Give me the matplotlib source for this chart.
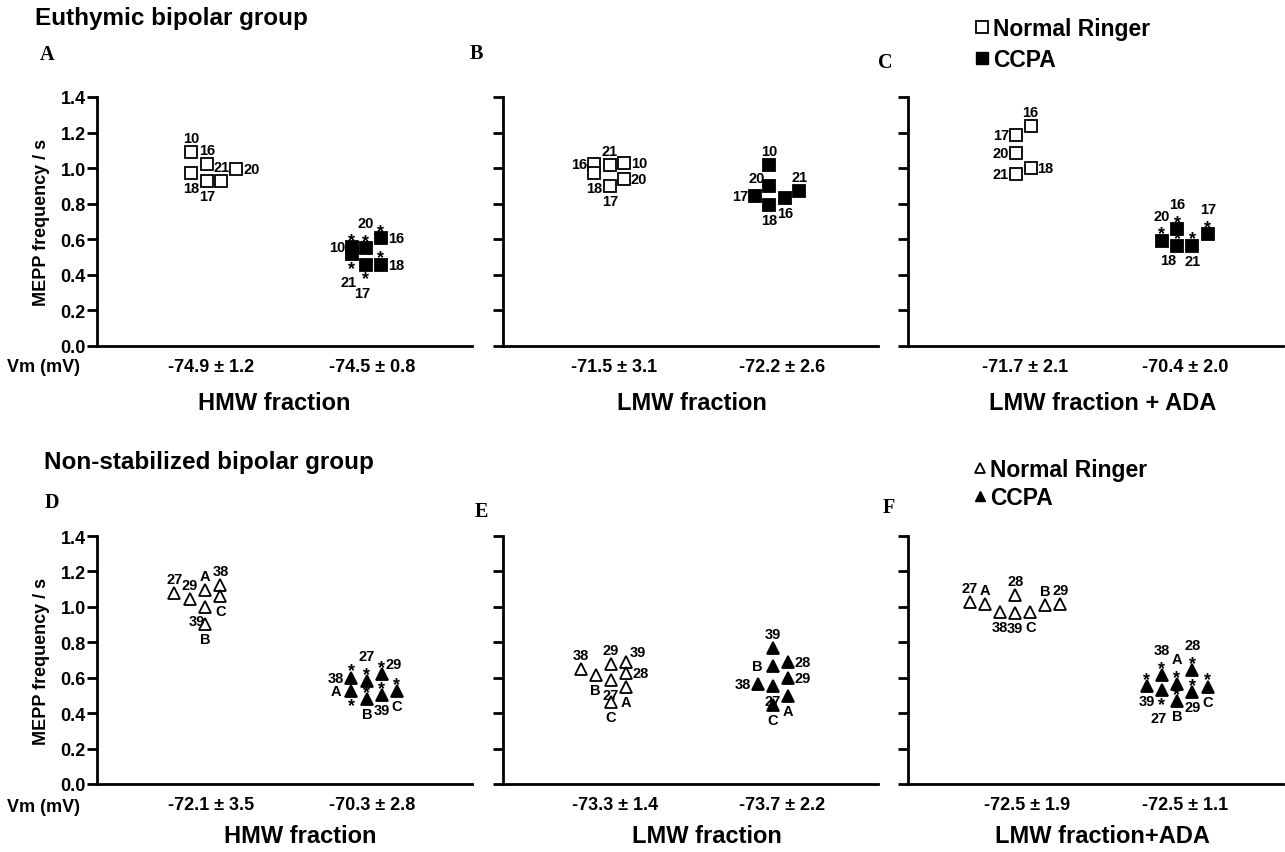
import matplotlib.pyplot as plt
from matplotlib.lines import Line2D

plt.rcParams['font.family'] = ['Liberation Sans', 'DejaVu Sans']
plt.rcParams['font.weight'] = 'bold'

# ---------------- data ----------------
# y values = MEPP frequency / s, ids = subject codes
a_nr_ids = ['10', '16', '18', '17', '21', '20']
a_nr_vals = [1.09, 1.025, 0.972, 0.925, 0.925, 0.997]
a_cc_ids = ['10', '21', '20', '16', '17', '18']
a_cc_vals = [0.556, 0.518, 0.55, 0.606, 0.458, 0.458]

b_nr_ids = ['16', '18', '21', '10', '20', '17']
b_nr_vals = [1.021, 0.974, 1.015, 1.03, 0.94, 0.897]
b_cc_ids = ['10', '20', '17', '18', '16', '21']
b_cc_vals = [1.015, 0.897, 0.841, 0.79, 0.831, 0.869]

c_nr_ids = ['16', '17', '20', '21', '18']
c_nr_vals = [1.237, 1.188, 1.085, 0.965, 1.002]
c_cc_ids = ['20', '16', '18', '21', '17']
c_cc_vals = [0.593, 0.659, 0.565, 0.565, 0.631]

d_nr_ids = ['27', '29', 'A', '38', 'C', '39', 'B']
d_nr_vals = [1.08, 1.042, 1.093, 1.123, 1.061, 1.001, 0.901]
d_cc_ids = ['38', 'A', '27', 'B', '29', '39', 'C']
d_cc_vals = [0.601, 0.526, 0.579, 0.479, 0.62, 0.501, 0.526]

e_nr_ids = ['38', 'B', '29', '27', 'C', '39', '28', 'A']
e_nr_vals = [0.648, 0.614, 0.676, 0.586, 0.464, 0.689, 0.625, 0.545]
e_cc_ids = ['39', 'B', '28', '29', '38', '27', 'A', 'C']
e_cc_vals = [0.765, 0.667, 0.686, 0.601, 0.563, 0.554, 0.497, 0.445]

f_nr_ids = ['27', 'A', '38', '28', '39', 'C', 'B', '29']
f_nr_vals = [1.027, 1.018, 0.971, 1.065, 0.963, 0.971, 1.008, 1.018]
f_cc_ids = ['39', '38', '27', 'A', 'B', '28', '29', 'C']
f_cc_vals = [0.554, 0.614, 0.531, 0.563, 0.469, 0.644, 0.52, 0.55]

vm_a = ['-74.9 ± 1.2', '-74.5 ± 0.8']
vm_b = ['-71.5 ± 3.1', '-72.2 ± 2.6']
vm_c = ['-71.7 ± 2.1', '-70.4 ± 2.0']
vm_d = ['-72.1 ± 3.5', '-70.3 ± 2.8']
vm_e = ['-73.3 ± 1.4', '-73.7 ± 2.2']
vm_f = ['-72.5 ± 1.9', '-72.5 ± 1.1']

xlabels = ['HMW fraction', 'LMW fraction', 'LMW fraction + ADA',
           'HMW fraction', 'LMW fraction', 'LMW fraction+ADA']

# ---------------- layout (scatter jitter, label placement) ----------------
a_nr_jit = [-0.53, -0.11, -0.53, -0.11, 0.27, 0.67]
a_nr_lab = ['n', 'n', 's', 's', 'n', 'e']
a_cc_jit = [-0.54, -0.54, -0.17, 0.24, -0.17, 0.24]
a_cc_lab = ['w', 's2', 'n2', 'e', 's2', 'e']
a_cc_star = ['n', 's', 'n', 'n', 's', 'n']

b_nr_jit = [-0.53, -0.53, -0.11, 0.27, 0.27, -0.11]
b_nr_lab = ['w', 's', 'n', 'e', 'e', 's']
b_cc_jit = [-0.34, -0.34, -0.72, -0.34, 0.08, 0.46]
b_cc_lab = ['n', 'nw', 'w', 's', 's', 'n']

c_nr_jit = [0.15, -0.24, -0.24, -0.24, 0.15]
c_nr_lab = ['n', 'w', 'w', 'w', 'e']
c_cc_jit = [-0.62, -0.21, -0.21, 0.19, 0.61]
c_cc_lab = ['n2', 'n2', 'sw', 's', 'n2']
c_cc_star = ['n', 'n', 'n', 'n', 'n']

d_nr_jit = [-0.99, -0.58, -0.16, 0.24, 0.24, -0.16, -0.16]
d_nr_lab = ['n', 'n', 'n', 'n', 's', 'sw', 's']
d_cc_jit = [-0.56, -0.56, -0.14, -0.14, 0.26, 0.26, 0.66]
d_cc_lab = ['w', 'w', 'n2', 's', 'ne', 's', 's']
d_cc_star = ['n', 's', 'n', 'n', 'n', 'n', 'n']

e_nr_jit = [-0.91, -0.51, -0.11, -0.11, -0.11, 0.30, 0.30, 0.30]
e_nr_lab = ['n', 's', 'n', 's', 's', 'ne', 'e', 's']
e_cc_jit = [-0.24, -0.24, 0.16, 0.16, -0.64, -0.24, 0.16, -0.24]
e_cc_lab = ['n', 'w', 'e', 'e', 'w', 's', 's', 's']

f_nr_jit = [-1.53, -1.13, -0.73, -0.31, -0.31, 0.09, 0.49, 0.89]
f_nr_lab = ['n', 'n', 's', 'n', 's', 's', 'n', 'n']
f_cc_jit = [-1.02, -0.62, -0.62, -0.22, -0.22, 0.19, 0.19, 0.61]
f_cc_lab = ['s', 'n2', 's2', 'n2', 's', 'n2', 's', 's']
f_cc_star = ['n', 'n', 's', 'n', 'n', 'n', 'n', 'n']

W, H = 1285, 853
PT = 0.72  # points per pixel at 100 dpi
OFFS = {'n': (0, 14), 's': (0, -15), 'n2': (0, 25), 's2': (-3, -28),
        'w': (-15, 0), 'e': (15, 0), 'ne': (12, 10), 'nw': (-13, 8),
        'sw': (-9, -14)}

panels = [
    dict(letter='A', box=(97.5, 98, 472, 347), gx=[3.04, 7.33], vm=vm_a,
         nr=(a_nr_ids, a_nr_vals, a_nr_jit, a_nr_lab, None),
         cc=(a_cc_ids, a_cc_vals, a_cc_jit, a_cc_lab, a_cc_star), mk='s',
         lpos=(40, 55), xl=(274, 404)),
    dict(letter='B', box=(503, 98, 878, 347), gx=[2.96, 7.44], vm=vm_b,
         nr=(b_nr_ids, b_nr_vals, b_nr_jit, b_nr_lab, None),
         cc=(b_cc_ids, b_cc_vals, b_cc_jit, b_cc_lab, None), mk='s',
         lpos=(470, 54), xl=(692, 404)),
    dict(letter='C', box=(908, 98, 1283, 347), gx=[3.12, 7.39], vm=vm_c,
         nr=(c_nr_ids, c_nr_vals, c_nr_jit, c_nr_lab, None),
         cc=(c_cc_ids, c_cc_vals, c_cc_jit, c_cc_lab, c_cc_star), mk='s',
         lpos=(878, 63), xl=(1103, 404)),
    dict(letter='D', box=(97.5, 537, 472, 785), gx=[3.04, 7.33], vm=vm_d,
         nr=(d_nr_ids, d_nr_vals, d_nr_jit, d_nr_lab, None),
         cc=(d_cc_ids, d_cc_vals, d_cc_jit, d_cc_lab, d_cc_star), mk='^',
         lpos=(45, 503), xl=(300, 837)),
    dict(letter='E', box=(503, 537, 878, 785), gx=[2.98, 7.43], vm=vm_e,
         nr=(e_nr_ids, e_nr_vals, e_nr_jit, e_nr_lab, None),
         cc=(e_cc_ids, e_cc_vals, e_cc_jit, e_cc_lab, None), mk='^',
         lpos=(475, 512), xl=(707, 837)),
    dict(letter='F', box=(908, 537, 1283, 785), gx=[3.17, 7.39], vm=vm_f,
         nr=(f_nr_ids, f_nr_vals, f_nr_jit, f_nr_lab, None),
         cc=(f_cc_ids, f_cc_vals, f_cc_jit, f_cc_lab, f_cc_star), mk='^',
         lpos=(883, 508), xl=(1102, 837)),
]


def draw_group(ax, x0, grp, marker, filled):
    ids, vals, jit, lab, star = grp
    xs = [x0 + j for j in jit]
    ms = 8 if marker == 's' else 8.5
    ax.plot(xs, vals, ls='none', marker=marker, ms=ms,
            mfc='black' if filled else 'white', mec='black', mew=1.3,
            clip_on=False, zorder=3)
    for x, y, t, p in zip(xs, vals, ids, lab):
        dx, dy = OFFS[p]
        ax.annotate(t, (x, y), xytext=(dx * PT, dy * PT), textcoords='offset points',
                    ha='center', va='center', fontsize=10.5, fontweight='bold', zorder=4)
    if star:
        for x, y, s in zip(xs, vals, star):
            dy = 12 if s == 'n' else -9
            ax.annotate('*', (x, y), xytext=(0, (dy - 10) * PT), textcoords='offset points',
                        ha='center', va='baseline', fontsize=13, fontweight='bold', zorder=4)


fig = plt.figure(figsize=(W / 100, H / 100), dpi=100)

for i, p in enumerate(panels):
    l, t, r, b = p['box']
    ax = fig.add_axes([l / W, 1 - b / H, (r - l) / W, (b - t) / H])
    ax.set_xlim(0, 10)
    ax.set_ylim(0, 1.4)
    for s in ['top', 'right']:
        ax.spines[s].set_visible(False)
    for s in ['left', 'bottom']:
        ax.spines[s].set_linewidth(2)
    ax.set_yticks([0, 0.2, 0.4, 0.6, 0.8, 1.0, 1.2, 1.4])
    if p['letter'] in ('A', 'D'):
        ax.set_yticklabels(['0.0', '0.2', '0.4', '0.6', '0.8', '1.0', '1.2', '1.4'])
    else:
        ax.set_yticklabels([])
    ax.tick_params(axis='y', length=7.5, width=2, pad=1, labelsize=13)
    ax.set_xticks(p['gx'])
    ax.set_xticklabels(p['vm'], fontsize=13, fontweight='bold')
    ax.tick_params(axis='x', length=0, pad=9)

    draw_group(ax, p['gx'][0], p['nr'], p['mk'], False)
    draw_group(ax, p['gx'][1], p['cc'], p['mk'], True)

    ax.set_xlabel(xlabels[i], fontsize=17, fontweight='bold', va='center')
    ax.xaxis.set_label_coords((p['xl'][0] - l) / (r - l), (b - p['xl'][1]) / (b - t))

    fig.text(p['lpos'][0] / W, 1 - p['lpos'][1] / H, p['letter'],
             family=['Liberation Serif', 'DejaVu Serif'], fontweight='bold',
             fontsize=14.5, ha='left', va='center')

# group titles
fig.text(35 / W, 1 - 19 / H, 'Euthymic bipolar group', fontsize=17.5,
         fontweight='bold', ha='left', va='center')
fig.text(44 / W, 1 - 463 / H, 'Non-stabilized bipolar group', fontsize=17.5,
         fontweight='bold', ha='left', va='center')

# y labels and Vm row labels
for yc, yv in [(222, 368), (661, 808)]:
    fig.text(42 / W, 1 - yc / H, 'MEPP frequency / s', rotation=90, fontsize=13,
             fontweight='bold', ha='center', va='center')
    fig.text(7 / W, 1 - yv / H, 'Vm (mV)', fontsize=13, fontweight='bold',
             ha='left', va='center')

# legends
sq_handles = [Line2D([], [], ls='none', marker='s', ms=8, mfc='white', mec='black', mew=1.3),
              Line2D([], [], ls='none', marker='s', ms=8, mfc='black', mec='black')]
tr_handles = [Line2D([], [], ls='none', marker='^', ms=7.5, mfc='white', mec='black', mew=1.3),
              Line2D([], [], ls='none', marker='^', ms=7.5, mfc='black', mec='black')]
fig.legend(sq_handles, ['Normal Ringer', 'CCPA'], loc='upper left',
           bbox_to_anchor=(974.8 / W, 1 - 18 / H), frameon=False, borderpad=0,
           borderaxespad=0, handlelength=0.6, handletextpad=0.2, labelspacing=0.35,
           prop={'size': 16.5, 'weight': 'bold'})
fig.legend(tr_handles, ['Normal Ringer', 'CCPA'], loc='upper left',
           bbox_to_anchor=(973.1 / W, 1 - 459 / H), frameon=False, borderpad=0,
           borderaxespad=0, handlelength=0.6, handletextpad=0.14, labelspacing=0.22,
           prop={'size': 16.5, 'weight': 'bold'})

fig.savefig('out.png', dpi=100)
